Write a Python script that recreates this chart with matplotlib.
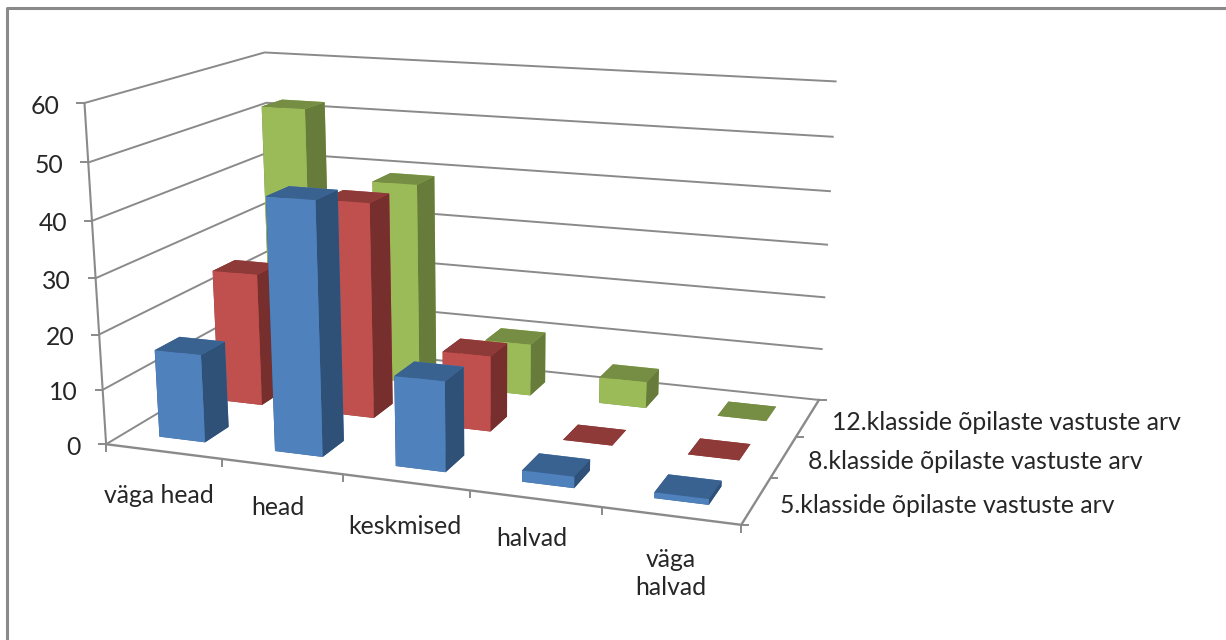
import numpy as np
import matplotlib
matplotlib.use("Agg")
import matplotlib.pyplot as plt
from matplotlib.lines import Line2D
from matplotlib.transforms import Affine2D

categories = ["väga head", "head", "keskmised", "halvad", "väga\nhalvad"]
series_names = ["5.klasside õpilaste vastuste arv",
                "8.klasside õpilaste vastuste arv",
                "12.klasside õpilaste vastuste arv"]
values_5 = [16, 45, 16, 2, 1]
values_8 = [25, 40, 14, 0, 0]
values_12 = [52, 39, 10, 5, 0]
value_ticks = [0, 10, 20, 30, 40, 50, 60]

front_colors = ["#4F81BD", "#C0504D", "#9BBB59"]
top_colors = ["#3A6291", "#8E3A38", "#768E43"]
side_colors = ["#2F5077", "#772F2D", "#677C3B"]
GREY = "#8A8A8A"
TEXT = "#262626"
W, H = 1226, 640
plt.rcParams["font.family"] = ["Lato", "DejaVu Sans"]
FS = 17.8

# camera: frame corners of the chart box (category, series, value) -> pixel
box_3d = [(0, 0, 0), (5, 0, 0), (5, 3, 0), (0, 3, 0), (0, 0, 60), (0, 3, 60), (5, 3, 60)]
box_px = [(104, 444), (742, 524), (818, 401), (277, 343), (86, 104), (263, 52), (836, 81)]
A, b = [], []
for (X, Y, Z), (u, v) in zip(box_3d, box_px):
    A.append([X, Y, Z, 1, 0, 0, 0, 0, -u*X, -u*Y, -u*Z]); b.append(u)
    A.append([0, 0, 0, 0, X, Y, Z, 1, -v*X, -v*Y, -v*Z]); b.append(v)
p = np.linalg.lstsq(np.array(A, float), np.array(b, float), rcond=None)[0]
P = np.append(p, 1).reshape(3, 4)


def project(x, y, z):
    q = P @ np.array([x, y, z, 1.0])
    return q[0] / q[2], q[1] / q[2]


fig = plt.figure(figsize=(W / 100, H / 100), dpi=100, facecolor="white")
ax = fig.add_axes([0, 0, 1, 1], projection="3d", computed_zorder=False)
ax.set_axis_off()
ax.patch.set_visible(False)
ax.viewLim.intervalx = (-1, 1)
ax.viewLim.intervaly = (-1, 1)
# pixel -> normalised device coordinates, as mplot3d expects
NDC = np.array([[2 / W, 0, -1], [0, -2 / H, 1], [0, 0, 1]])
PN = NDC @ P
M = np.vstack([PN[0], PN[1], [0, 0, 0, -1], PN[2]])
ax.get_proj = lambda: M
ax.apply_aspect = lambda position=None: None
pix = Affine2D().scale(2 / W, -2 / H).translate(-1, 1) + ax.transData


def seg(xs, ys, lw=1.4, z=1):
    ax.add_artist(Line2D(xs, ys, color=GREY, lw=lw, zorder=z, transform=pix,
                         solid_capstyle="butt"))


def label(x, y, s, **kw):
    ax.text2D(x, y, s, transform=pix, fontsize=FS, color=TEXT, zorder=99, va="center", **kw)


# chart frame
seg([7, 7, W], [H, 8, 8], lw=2.2)

# gridlines on walls
for v in value_ticks:
    ax.plot([0, 0, 5], [0, 3, 3], [v, v, v], color=GREY, lw=1.4, zorder=2)
    px, py = project(0, 0, v)
    seg([px - 8, px], [py, py])
    label(px - 25, py + 3, str(v), ha="right")
ax.plot([0, 0], [0, 0], [0, 60], color=GREY, lw=1.5, zorder=2)
ax.plot([0, 5, 5], [0, 0, 3], [0, 0, 0], color=GREY, lw=1.7, zorder=2)

# category ticks and labels
label_drop = [44, 41, 44, 40, 58]
label_shift = [-5, -4, -1, -3, 0]
for i in range(6):
    px, py = project(i, 0, 0)
    seg([px, px], [py, py + 8])
for i, c in enumerate(categories):
    px, py = project(i + 0.5, 0, 0)
    label(px + label_shift[i], py + label_drop[i], c, ha="center", linespacing=1.27)

# series ticks and labels
for j in range(4):
    px, py = project(5, j, 0)
    seg([px, px + 8], [py, py])
for j, s in enumerate(series_names):
    px, py = project(5, j + 0.5, 0)
    label(px + 24, py + 5, s, ha="left")

# bars, back row first
rows = [values_5, values_8, values_12]
order = 10
for j in (2, 1, 0):
    for i, v in enumerate(rows[j]):
        faces = [top_colors[j], top_colors[j], front_colors[j],
                 front_colors[j], side_colors[j], side_colors[j]]
        poly = ax.bar3d(i + 0.3, j + 0.3, 0, 0.4, 0.4, v, color=faces, shade=False,
                        linewidth=0.2, edgecolor=None)
        poly.set_zorder(order)
        order += 1

fig.savefig("out.png", dpi=100)
